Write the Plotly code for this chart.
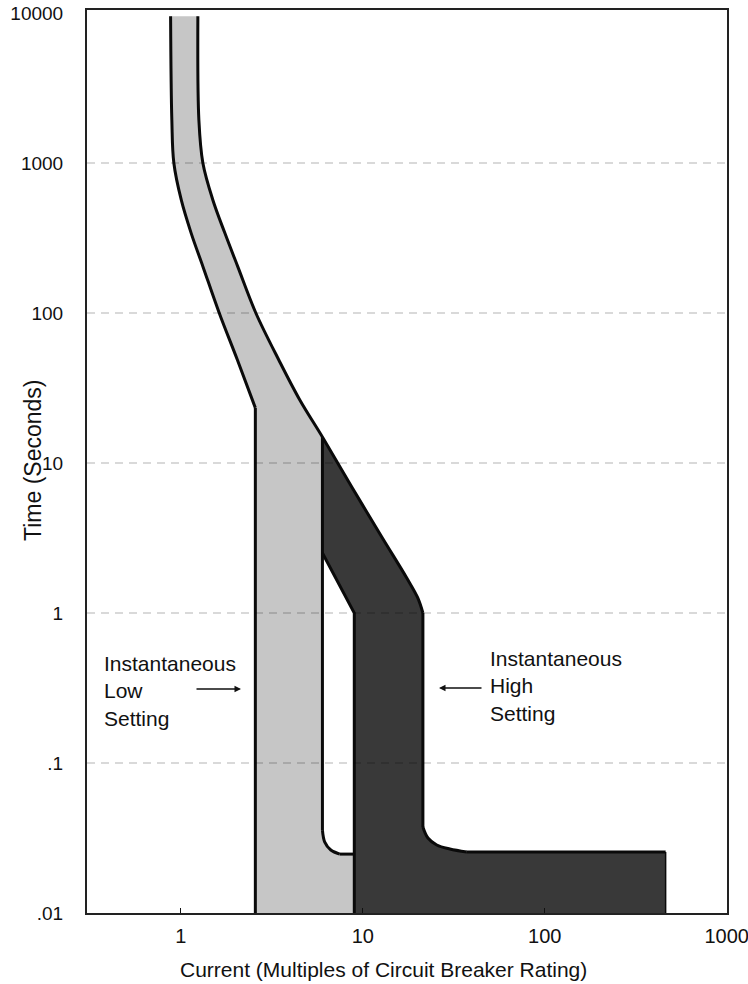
import plotly.graph_objects as go

# Time-current characteristic of a circuit breaker with two instantaneous settings.
# Current in multiples of breaker rating, time in seconds, read along each band edge.

# Left (minimum) edge of the low-setting band, down to its instantaneous pickup
low_left_I = [0.878, 0.892, 0.915, 1.005, 1.139, 1.324, 1.625, 2.046, 2.567]
low_left_t = [9500, 1935, 1000, 567, 341, 203, 100, 48.6, 23.3]

# Upper (maximum) edge shared by both bands, down to the high-setting pickup
upper_I = [1.240, 1.256, 1.321, 1.499, 1.745, 2.057, 2.583, 3.455, 4.507,
           6.0, 8.70, 12.72, 17.45, 20.06, 21.4]
upper_t = [9500, 1935, 1000, 567, 341, 203, 100, 48.6, 26.3,
           14.9, 6.92, 3.21, 1.71, 1.26, 1.0]

# Rounded knee of the high setting into its clearing-time floor
high_bend_I = [21.4, 22.8, 25.5, 30.1, 37.3]
high_bend_t = [0.0374, 0.0316, 0.0284, 0.0267, 0.0255]
high_max_I = 462

# Rounded knee of the low setting into its clearing-time floor
low_bend_I = [6.0, 6.18, 6.67, 7.47]
low_bend_t = [0.0357, 0.0297, 0.0263, 0.0247]

# Lower-left edge of the high-setting band
high_inner_I = [6.0, 8.98]
high_inner_t = [2.51, 1.0]

t_min = 0.01

y_ticks = [0.01, 0.1, 1, 10, 100, 1000, 10000]
y_ticktext = [".01", ".1", "1", "10", "100", "1000", "10000"]
x_ticks = [1, 10, 100, 1000]
x_ticktext = ["1", "10", "100", "1000"]
grid_t = [0.1, 1, 10, 100, 1000]

x_range = [-0.516, 3.002]
y_range = [-2.0, 4.02]

LIGHT = "#c6c6c6"
DARK = "#393939"
EDGE = "#0a0a0a"
FONT = "Liberation Sans, Arial, sans-serif"

j = upper_I.index(high_inner_I[0])

# Low-setting band polygon
low_x = (low_left_I + [low_left_I[-1], high_inner_I[-1], high_inner_I[-1]]
         + low_bend_I[::-1] + upper_I[:j + 1][::-1])
low_y = (low_left_t + [t_min, t_min, low_bend_t[-1]]
         + low_bend_t[::-1] + upper_t[:j + 1][::-1])

# High-setting band polygon
high_x = (upper_I[j:] + high_bend_I + [high_max_I, high_max_I]
          + [high_inner_I[-1], high_inner_I[-1], high_inner_I[0]])
high_y = (upper_t[j:] + high_bend_t + [high_bend_t[-1], t_min]
          + [t_min, high_inner_t[-1], high_inner_t[0]])

fig = go.Figure()

fig.add_trace(go.Scatter(x=low_x, y=low_y, fill="toself", fillcolor=LIGHT,
                         mode="lines", line=dict(width=0), hoverinfo="skip"))
fig.add_trace(go.Scatter(x=high_x, y=high_y, fill="toself", fillcolor=DARK,
                         mode="lines", line=dict(width=0), hoverinfo="skip"))


def edge(xs, ys, shape="linear", width=3):
    fig.add_trace(go.Scatter(x=xs, y=ys, mode="lines",
                             line=dict(color=EDGE, width=width, shape=shape,
                                       smoothing=1.0),
                             hoverinfo="skip"))


# Band outlines
edge(low_left_I, low_left_t, "spline")
edge([low_left_I[-1]] * 2, [low_left_t[-1], t_min])
edge(upper_I, upper_t, "spline")
edge([upper_I[-1], high_bend_I[0]], [upper_t[-1], high_bend_t[0]])
edge(high_bend_I, high_bend_t, "spline")
edge([high_bend_I[-1], high_max_I], [high_bend_t[-1]] * 2)
edge([high_max_I] * 2, [high_bend_t[-1], t_min], width=1.5)
edge([upper_I[j], low_bend_I[0]], [upper_t[j], low_bend_t[0]])
edge(low_bend_I, low_bend_t, "spline")
edge([low_bend_I[-1], high_inner_I[-1]], [low_bend_t[-1]] * 2)
edge(high_inner_I + [high_inner_I[-1]], high_inner_t + [t_min])

# Dashed horizontal gridlines, drawn over the bands
for g in grid_t:
    fig.add_trace(go.Scatter(x=[10 ** x_range[0], 10 ** x_range[1]], y=[g, g],
                             mode="lines", hoverinfo="skip",
                             line=dict(color="rgba(0,0,0,0.30)", width=1.2,
                                       dash="8px,6px")))

fig.update_layout(
    width=748, height=984,
    margin=dict(l=87, r=21, t=10, b=71, autoexpand=False),
    paper_bgcolor="white", plot_bgcolor="white",
    showlegend=False,
    font=dict(family=FONT, size=21, color="#111111"),
    xaxis=dict(type="log", range=x_range, tickvals=x_ticks, ticktext=x_ticktext,
               automargin=False, tickfont=dict(size=20), ticklabeloverflow="allow",
               showgrid=False, zeroline=False, ticks="inside", ticklen=5,
               tickcolor="#111111", tickwidth=1, ticklabelstandoff=4,
               showline=True, linecolor="#222222", linewidth=2, mirror=True),
    yaxis=dict(type="log", range=y_range, tickvals=y_ticks, ticktext=y_ticktext,
               automargin=False, tickfont=dict(size=19), ticklabeloverflow="allow",
               showgrid=False, zeroline=False, ticks="", ticklabelstandoff=18,
               showline=True, linecolor="#222222", linewidth=2, mirror=True),
)

annotations = [
    dict(text="Current (Multiples of Circuit Breaker Rating)", xref="paper", yref="paper",
         x=0.4625, y=-0.0631, xanchor="center", yanchor="middle", showarrow=False),
    dict(text="Time (Seconds)", xref="paper", yref="paper", textangle=-90,
         font=dict(size=23),
         x=-0.0844, y=0.5017, xanchor="center", yanchor="middle", showarrow=False),
    dict(text="Instantaneous<br>Low<br>Setting", xref="paper", yref="paper",
         x=(102 - 87) / 640, y=(913 - 691) / 903, xanchor="left", yanchor="middle",
         align="left", showarrow=False),
    dict(text="Instantaneous<br>High<br>Setting", xref="paper", yref="paper",
         x=(488 - 87) / 640, y=(913 - 686) / 903, xanchor="left", yanchor="middle",
         align="left", showarrow=False),
    dict(text="", xref="paper", yref="paper", x=(241 - 87) / 640, y=(913 - 689) / 903,
         ax=-46, ay=0, showarrow=True, arrowhead=2, arrowsize=1, arrowwidth=1.3,
         arrowcolor="#111111"),
    dict(text="", xref="paper", yref="paper", x=(439 - 87) / 640, y=(913 - 688) / 903,
         ax=44, ay=0, showarrow=True, arrowhead=2, arrowsize=1, arrowwidth=1.3,
         arrowcolor="#111111"),
]
fig.update_layout(annotations=annotations)

fig.write_html("out.html")
